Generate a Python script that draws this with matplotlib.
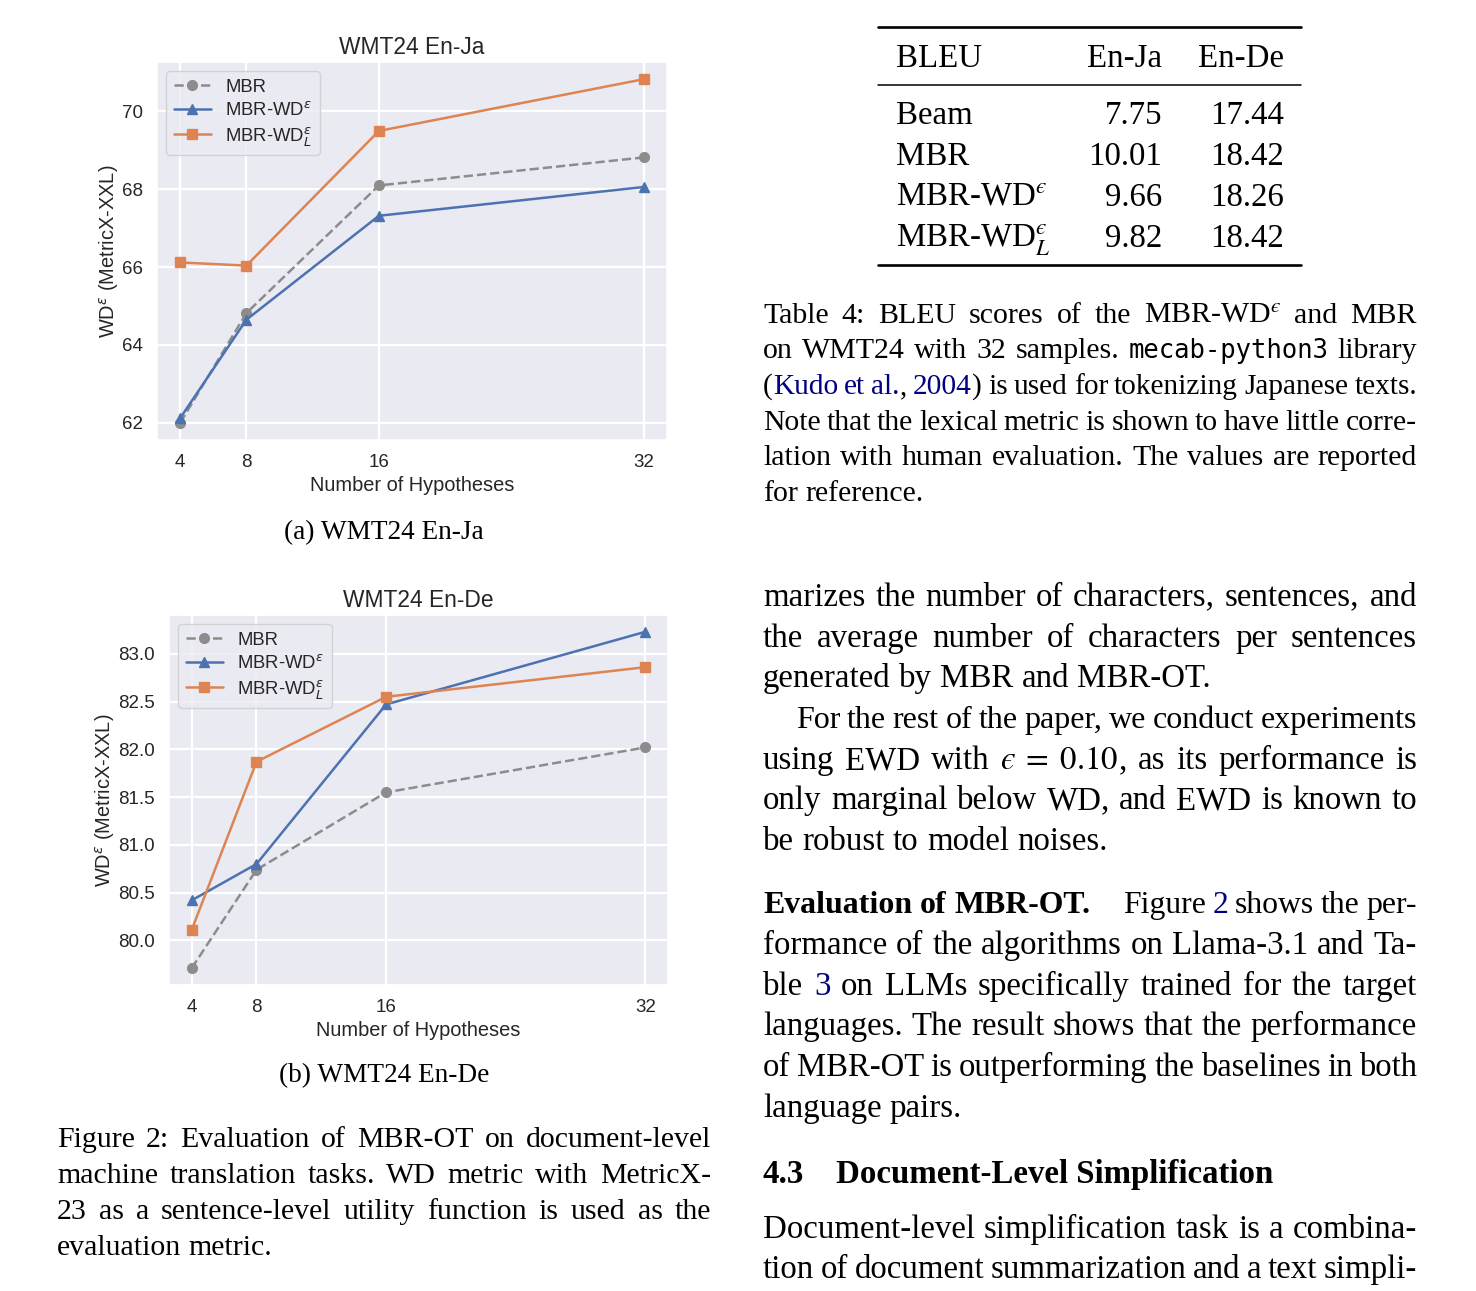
import matplotlib
matplotlib.use("Agg")
import matplotlib.pyplot as plt
import seaborn as sns
from matplotlib.lines import Line2D

# ---------------- data ----------------
hyps = [4, 8, 16, 32]
series_labels = ["MBR", "MBR-WD$^{ε}$", "MBR-WD$_{L}^{ε}$"]

enja_mbr = [62.00, 64.82, 68.10, 68.82]
enja_wd = [62.12, 64.65, 67.32, 68.06]
enja_wdl = [66.12, 66.04, 69.50, 70.83]

ende_mbr = [79.71, 80.74, 81.55, 82.02]
ende_wd = [80.42, 80.80, 82.47, 83.23]
ende_wdl = [80.11, 81.87, 82.55, 82.86]

table_header = ["BLEU", "En-Ja", "En-De"]
table_rows = ["Beam", "MBR", "MBR-WD$^{ϵ}$", "MBR-WD$_{L}^{ϵ}$"]
bleu_enja = [7.75, 10.01, 9.66, 9.82]
bleu_ende = [17.44, 18.42, 18.26, 18.42]

# ---------------- figure ----------------
W, H = 1476, 1291
sns.set_theme(style="darkgrid")
plt.rcParams["font.family"] = ["Liberation Sans", "DejaVu Sans"]
plt.rcParams["text.color"] = "#262626"

fig = plt.figure(figsize=(W / 100, H / 100), dpi=100)
fig.patch.set_facecolor("white")
renderer = fig.canvas.get_renderer()

COL_MBR = "#8c8c8c"
COL_WD = "#4C72B0"
COL_WDL = "#DD8452"


def add_axes_px(l, t, r, b):
    return fig.add_axes([l / W, 1 - b / H, (r - l) / W, (b - t) / H])


def draw_chart(ax, title, mbr, wd, wdl):
    ax.plot(hyps, mbr, color=COL_MBR, ls="--", marker="o", lw=1.8, ms=7, label=series_labels[0])
    ax.plot(hyps, wd, color=COL_WD, ls="-", marker="^", lw=1.8, ms=7, label=series_labels[1])
    ax.plot(hyps, wdl, color=COL_WDL, ls="-", marker="s", lw=1.8, ms=7, label=series_labels[2])
    ax.set_xticks(hyps)
    ax.set_title(title, fontsize=16.4, color="#262626")
    ax.set_xlabel("Number of Hypotheses", fontsize=14.4, color="#262626", labelpad=4)
    ax.set_ylabel("WD$^{ε}$ (MetricX-XXL)", fontsize=14.4, color="#262626", labelpad=1)
    ax.tick_params(axis="x", labelsize=13.5, pad=10, length=0, labelcolor="#262626")
    ax.tick_params(axis="y", labelsize=13.5, pad=10, length=0, labelcolor="#262626")
    ax.grid(True, color="white", lw=1.6)
    ax.legend(loc="upper left", fontsize=13.3, labelspacing=0.3)


ax1 = add_axes_px(157, 62, 667, 440)
draw_chart(ax1, "WMT24 En-Ja", enja_mbr, enja_wd, enja_wdl)

ax2 = add_axes_px(169, 615, 668, 985)
draw_chart(ax2, "WMT24 En-De", ende_mbr, ende_wd, ende_wdl)
ax2.yaxis.set_major_formatter(matplotlib.ticker.FormatStrFormatter("%.1f"))

# ---------------- text helpers ----------------
SERIF = "Liberation Serif"
F11 = 23.7
F10 = 21.5


def piece(x, y, s, st, fs):
    kw = dict(fontfamily=SERIF, fontsize=fs, color="black", math_fontfamily="stix")
    if st == "b":
        kw["fontweight"] = "bold"
    elif st == "blue":
        kw["color"] = "#000080"
    elif st == "mono":
        kw["fontfamily"] = "DejaVu Sans Mono"
        kw["fontsize"] = fs * 0.86
    return fig.text(x / W, 1 - y / H, s, ha="left", va="baseline", **kw)


def twidth(t):
    return t.get_window_extent(renderer).width


def tokenize(segs):
    words, cur = [], []
    for text, st in segs:
        parts = text.split(" ")
        for i, p in enumerate(parts):
            if i > 0 and cur:
                words.append(cur)
                cur = []
            if p:
                cur.append((p, st))
    if cur:
        words.append(cur)
    return words


def line(segs, x0, x1, y, fs, justify=True):
    if isinstance(segs, str):
        segs = [(segs, "n")]
    words = tokenize(segs)
    objs = []
    for w in words:
        objs.append([piece(0, y, s, st, fs) for s, st in w])

    def measure():
        return [[twidth(t) for t in ps] for ps in objs]

    widths = measure()
    totals = [sum(w) for w in widths]
    n = len(words)
    px_em = fs / 0.72
    space = 0.25 * px_em
    min_gap = 0.2 * px_em
    if justify and n > 1:
        gap = (x1 - x0 - sum(totals)) / (n - 1)
        if gap < min_gap:
            scale = (x1 - x0 - (n - 1) * min_gap) / sum(totals)
            for ps in objs:
                for t in ps:
                    t.set_fontsize(t.get_fontsize() * scale)
            widths = measure()
            totals = [sum(w) for w in widths]
            gap = (x1 - x0 - sum(totals)) / (n - 1)
    else:
        gap = space
    x = x0
    for ps, ws, tot in zip(objs, widths, totals):
        xx = x
        for t, pw in zip(ps, ws):
            t.set_x(xx / W)
            xx += pw
        x += tot + gap
    return x - gap


def hrule(x0, x1, y, lw):
    fig.add_artist(Line2D([x0 / W, x1 / W], [1 - y / H, 1 - y / H], color="black", lw=lw,
                          transform=fig.transFigure))


# ---------------- subcaptions / figure caption ----------------
fig.text(384 / W, 1 - 539 / H, "(a) WMT24 En-Ja", ha="center", va="baseline",
         fontfamily=SERIF, fontsize=19.6, color="black")
fig.text(384 / W, 1 - 1082 / H, "(b) WMT24 En-De", ha="center", va="baseline",
         fontfamily=SERIF, fontsize=19.6, color="black")

LX0, LX1 = 57, 711
line("Figure 2: Evaluation of MBR-OT on document-level", LX0, LX1, 1147, F10)
line("machine translation tasks. WD metric with MetricX-", LX0, LX1, 1183, F10)
line("23 as a sentence-level utility function is used as the", LX0, LX1, 1219, F10)
line("evaluation metric.", LX0, LX1, 1255, F10, justify=False)

# ---------------- table ----------------
hrule(878, 1301, 27, 1.9)
hrule(878, 1301, 85, 1.1)
hrule(878, 1301, 265, 1.9)
TX, C1, C2 = 896, 1162, 1284
hy = 67
fig.text(TX / W, 1 - hy / H, table_header[0], ha="left", va="baseline", fontfamily=SERIF,
         fontsize=F11, color="black")
fig.text(C1 / W, 1 - hy / H, table_header[1], ha="right", va="baseline", fontfamily=SERIF,
         fontsize=F11, color="black")
fig.text(C2 / W, 1 - hy / H, table_header[2], ha="right", va="baseline", fontfamily=SERIF,
         fontsize=F11, color="black")
row_base = [124, 165, 206, 247]
for lab, a, b, yb in zip(table_rows, bleu_enja, bleu_ende, row_base):
    fig.text(TX / W, 1 - yb / H, lab, ha="left", va="baseline", fontfamily=SERIF,
             fontsize=F11, color="black", math_fontfamily="stix")
    fig.text(C1 / W, 1 - yb / H, f"{a:.2f}", ha="right", va="baseline", fontfamily=SERIF,
             fontsize=F11, color="black")
    fig.text(C2 / W, 1 - yb / H, f"{b:.2f}", ha="right", va="baseline", fontfamily=SERIF,
             fontsize=F11, color="black")

RX0, RX1 = 763, 1417
line([("Table 4: BLEU scores of the MBR-WD$^{ϵ}$ and MBR", "n")], RX0, RX1, 323, F10)
line([("on WMT24 with 32 samples. ", "n"), ("mecab-python3", "mono"), (" library", "n")],
     RX0, RX1, 358, F10)
line([("(", "n"), ("Kudo et al.", "blue"), (", ", "n"), ("2004", "blue"),
      (") is used for tokenizing Japanese texts.", "n")], RX0, RX1, 394, F10)
line("Note that the lexical metric is shown to have little corre-", RX0, RX1, 430, F10)
line("lation with human evaluation. The values are reported", RX0, RX1, 465, F10)
line("for reference.", RX0, RX1, 501, F10, justify=False)

# ---------------- body text ----------------
line("marizes the number of characters, sentences, and", RX0, RX1, 606, F11)
line("the average number of characters per sentences", RX0, RX1, 647, F11)
line("generated by MBR and MBR-OT.", RX0, RX1, 687, F11, justify=False)
line("For the rest of the paper, we conduct experiments", RX0 + 33, RX1, 728, F11)
line([("using EWD with ", "n"), (r"$ϵ\;=\;0.10$", "n"), (", as its performance is", "n")],
     RX0, RX1, 769, F11)
line("only marginal below WD, and EWD is known to", RX0, RX1, 809, F11)
line("be robust to model noises.", RX0, RX1, 850, F11, justify=False)

xe = line([("Evaluation of MBR-OT.", "b")], RX0, RX1, 913, F11 * 0.97, justify=False)
line([("Figure ", "n"), ("2", "blue"), (" shows the per-", "n")], xe + 32, RX1, 913, F11)
line("formance of the algorithms on Llama-3.1 and Ta-", RX0, RX1, 954, F11)
line([("ble ", "n"), ("3", "blue"), (" on LLMs specifically trained for the target", "n")],
     RX0, RX1, 995, F11)
line("languages. The result shows that the performance", RX0, RX1, 1035, F11)
line("of MBR-OT is outperforming the baselines in both", RX0, RX1, 1076, F11)
line("language pairs.", RX0, RX1, 1117, F11, justify=False)

fig.text(763 / W, 1 - 1183 / H, "4.3", ha="left", va="baseline", fontfamily=SERIF,
         fontsize=F11, fontweight="bold", color="black")
fig.text(836 / W, 1 - 1183 / H, "Document-Level Simplification", ha="left", va="baseline",
         fontfamily=SERIF, fontsize=F11, fontweight="bold", color="black")

line("Document-level simplification task is a combina-", RX0, RX1, 1238, F11)
line("tion of document summarization and a text simpli-", RX0, RX1, 1278, F11)

fig.savefig("out.png", dpi=100, facecolor="white")
